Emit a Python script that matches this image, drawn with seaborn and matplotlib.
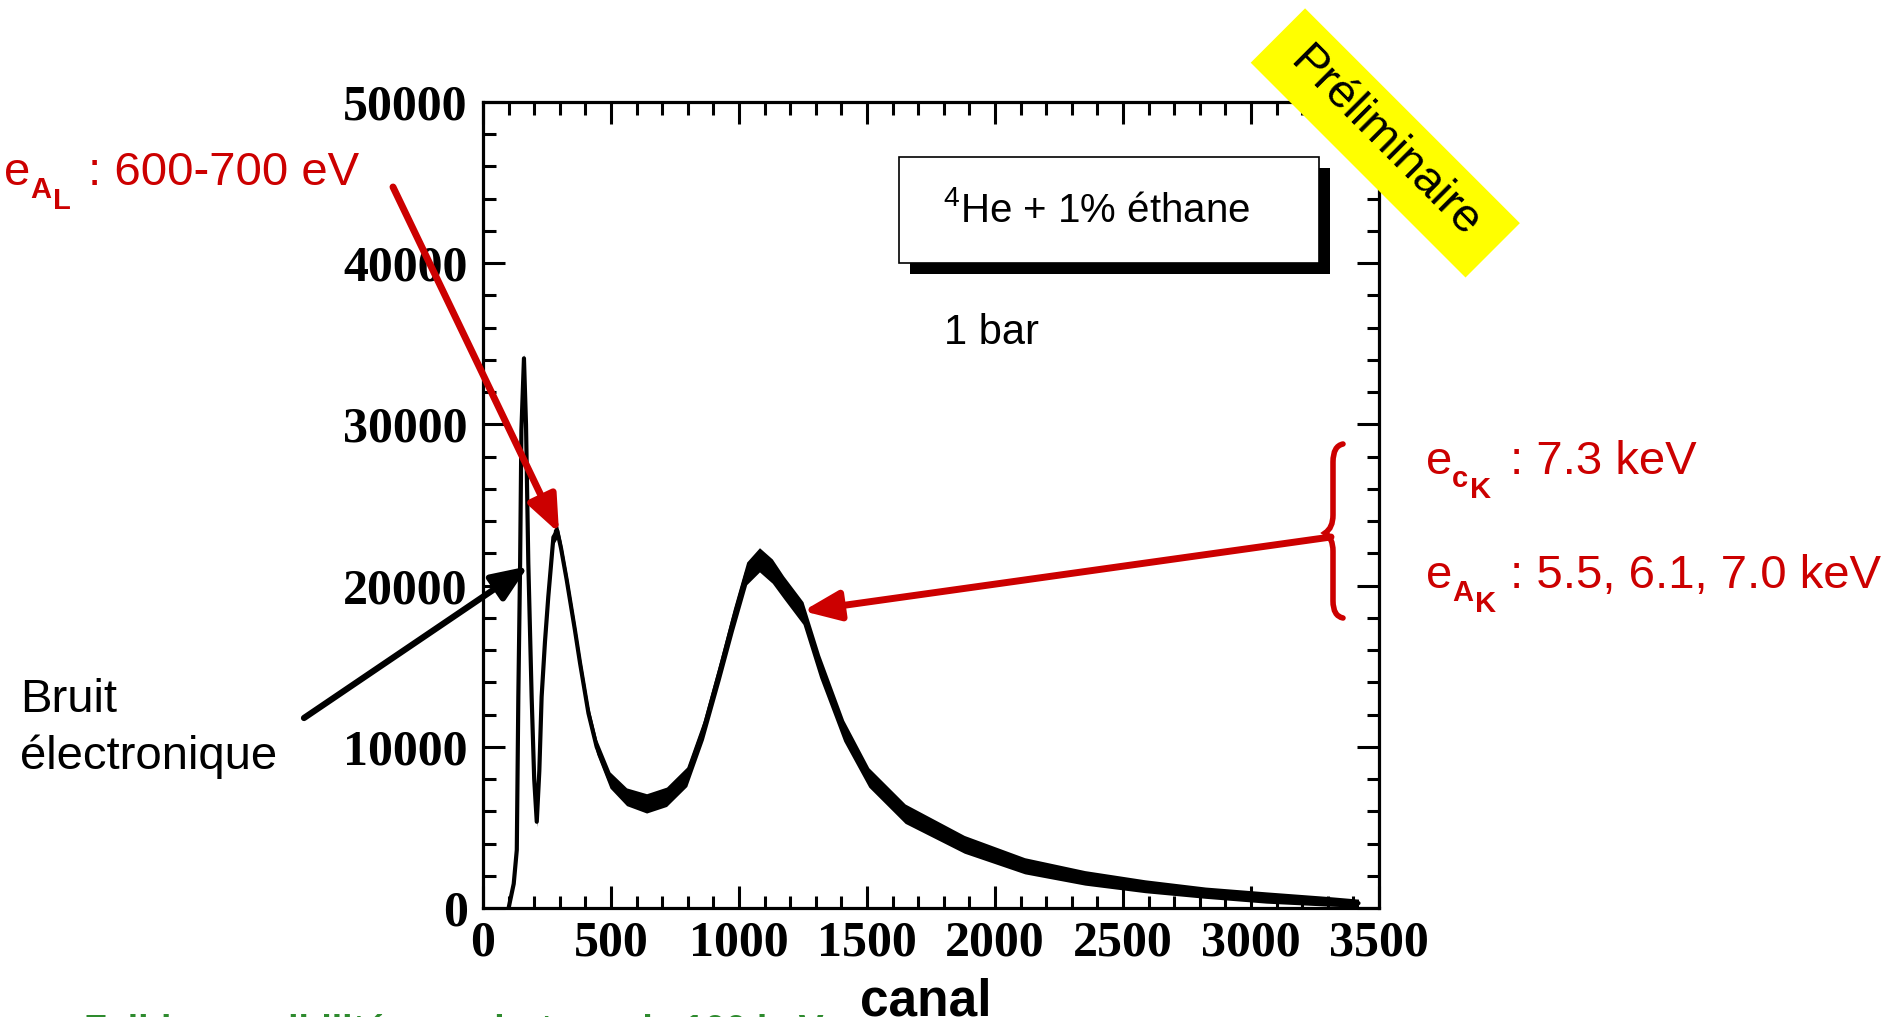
import numpy as np
import pandas as pd
import matplotlib
matplotlib.use("Agg")
import matplotlib.pyplot as plt
import seaborn as sns
from matplotlib.patches import Rectangle, PathPatch
from matplotlib.path import Path
from matplotlib.ticker import MultipleLocator

# ── data ──
canal = [100, 120, 132, 138, 145, 150, 160, 168, 177, 190, 200, 210, 220, 229,
         242, 255, 275, 290, 305, 327, 359, 379, 412, 444, 496, 561, 639, 717,
         796, 861, 926, 978, 1030, 1080, 1130, 1174, 1250, 1315, 1409, 1507,
         1649, 1880, 2116, 2351, 2586, 2822, 3060, 3296, 3420]
coups = [0, 1500, 3600, 13100, 21400, 29650, 34100, 30000, 21400, 13100, 8000,
         5350, 8500, 13100, 16500, 19300, 23000, 23400, 22300, 20350, 17250,
         15200, 12080, 10000, 7940, 6900, 6490, 6900, 8140, 11040, 14760, 17870,
         20760, 21600, 20900, 19900, 18300, 15000, 11000, 8100, 5850, 3950, 2620,
         1870, 1350, 950, 650, 420, 300]
# half width of the statistical noise band
bruit = [0, 100, 200, 250, 300, 300, 300, 300, 300, 300, 250, 300, 300, 350,
         350, 400, 450, 450, 450, 450, 450, 450, 450, 450, 500, 550, 600, 600,
         600, 600, 650, 700, 700, 750, 750, 700, 700, 700, 650, 600, 600, 550,
         500, 450, 400, 350, 350, 300, 250]

x_ticks = [0, 500, 1000, 1500, 2000, 2500, 3000, 3500]
y_ticks = [0, 10000, 20000, 30000, 40000, 50000]

RED = "#CC0000"
W, H = 1890, 1017

sns.set_style("ticks")
plt.rcParams["font.family"] = ["Liberation Sans", "DejaVu Sans"]
plt.rcParams["text.color"] = "black"
plt.rcParams["mathtext.fontset"] = "custom"
plt.rcParams["mathtext.rm"] = "Liberation Sans"
plt.rcParams["mathtext.it"] = "Liberation Sans:italic"
plt.rcParams["mathtext.bf"] = "Liberation Sans:bold"


def fx(x):
    return x / W


def fy(y):
    return 1 - y / H


def inch(x, y):
    return x / 100, (H - y) / 100


fig = plt.figure(figsize=(W / 100, H / 100), dpi=100)
ax = fig.add_axes([fx(483), fy(908), (1379 - 483) / W, (908 - 102) / H])

df = pd.DataFrame({"canal": canal, "coups": coups, "bruit": bruit})
ax.fill_between(df["canal"], df["coups"] - df["bruit"], df["coups"] + df["bruit"],
                color="black", lw=0)
sns.lineplot(data=df, x="canal", y="coups", color="black", lw=3, ax=ax)

ax.set_xlim(0, 3500)
ax.set_ylim(0, 50000)
ax.set_xticks(x_ticks)
ax.set_yticks(y_ticks)
ax.xaxis.set_minor_locator(MultipleLocator(100))
ax.yaxis.set_minor_locator(MultipleLocator(2000))
ax.tick_params(which="both", direction="in", top=True, right=True, width=2.2,
               color="black", labelcolor="black")
ax.tick_params(which="major", length=16)
ax.tick_params(which="minor", length=9)
ax.tick_params(axis="y", pad=11)
ax.tick_params(axis="x", pad=9)
for lab in ax.get_xticklabels() + ax.get_yticklabels():
    lab.set_fontfamily("Liberation Serif")
    lab.set_fontweight("bold")
    lab.set_fontsize(36)
ax.set_xlabel("")
ax.set_ylabel("")
for s in ax.spines.values():
    s.set_linewidth(2.3)
    s.set_color("black")

# x label, cut by the bottom edge as in the slide
fig.text(fx(926), fy(1015), "canal", ha="center", va="baseline", fontsize=37,
         fontweight="bold")

# ── legend box with shadow ──
fig.add_artist(Rectangle(inch(910, 274), 4.20, 1.06, transform=fig.dpi_scale_trans,
                         fc="black", ec="none", zorder=5))
fig.add_artist(Rectangle(inch(899, 263), 4.20, 1.06, transform=fig.dpi_scale_trans,
                         fc="white", ec="black", lw=1.2, zorder=6))
fig.text(fx(1097), fy(211), r"$^{4}$He + 1% éthane", ha="center", va="center",
         fontsize=29, zorder=7)
fig.text(fx(944), fy(333), "1 bar", ha="left", va="center", fontsize=30)

# ── "Préliminaire" banner ──
fig.add_artist(Rectangle(inch(1250.7, 62.7), 3.038, 0.769, angle=-45,
                         transform=fig.dpi_scale_trans, fc="#FFFF00", ec="none",
                         zorder=8))
fig.text(fx(1385), fy(143), "Préliminaire", rotation=-45, rotation_mode="anchor",
         ha="center", va="center", fontsize=34, zorder=9)


# ── red labels e with two-level subscripts ──
def etiquette(x, y, sub1, sub2, reste, dx2=49):
    fig.text(fx(x), fy(y), "e", color=RED, ha="left", va="baseline", fontsize=34)
    fig.text(fx(x + 26), fy(y + 13), sub1, color=RED, ha="left", va="baseline",
             fontsize=21, fontweight="bold")
    fig.text(fx(x + dx2), fy(y + 24), sub2, color=RED, ha="left", va="baseline",
             fontsize=21, fontweight="bold")
    fig.text(fx(x + 84), fy(y), reste, color=RED, ha="left", va="baseline",
             fontsize=34)


etiquette(4, 185, "A", "L", ": 600-700 eV")
etiquette(1426, 474, "c", "K", ": 7.3 keV", dx2=44)
etiquette(1426, 588, "A", "K", ": 5.5, 6.1, 7.0 keV")

fig.text(fx(20), fy(700), "Bruit", ha="left", va="center", fontsize=34)
fig.text(fx(20), fy(757), "électronique", ha="left", va="center", fontsize=34)

arrow_red = dict(arrowstyle="-|>,head_length=1.1,head_width=0.45", lw=5,
                 color=RED, shrinkA=0, shrinkB=0, mutation_scale=20)
arrow_black = dict(arrowstyle="-|>,head_length=1.1,head_width=0.45", lw=4.5,
                   color="black", shrinkA=0, shrinkB=0, mutation_scale=20)
ax.annotate("", xy=(297, 23260), xycoords="data",
            xytext=(393, H - 187), textcoords="figure pixels",
            arrowprops=arrow_red, annotation_clip=False, zorder=10)
ax.annotate("", xy=(176, 21200), xycoords="data",
            xytext=(304, H - 718), textcoords="figure pixels",
            arrowprops=arrow_black, annotation_clip=False, zorder=10)
ax.annotate("", xy=(1250, 18420), xycoords="data",
            xytext=(1331, H - 537), textcoords="figure pixels",
            arrowprops=arrow_red, annotation_clip=False, zorder=10)

# curly brace on the right
pts = [(1343, 444), (1333, 446), (1333, 462), (1333, 515), (1333, 528),
       (1325, 533), (1333, 538), (1333, 551), (1333, 601), (1333, 616),
       (1343, 618)]
codes = [Path.MOVETO, Path.CURVE3, Path.CURVE3, Path.LINETO, Path.CURVE3,
         Path.CURVE3, Path.CURVE3, Path.CURVE3, Path.LINETO, Path.CURVE3,
         Path.CURVE3]
brace = Path([inch(x, y) for x, y in pts], codes)
fig.add_artist(PathPatch(brace, transform=fig.dpi_scale_trans, fc="none",
                         ec=RED, lw=4, capstyle="round"))

# green caption, cut by the bottom edge of the slide
fig.text(fx(84), fy(1042), "Faible sensibilité aux photons de 100 keV",
         color="#2E8B2E", ha="left", va="baseline", fontsize=27, fontweight="bold")

fig.savefig("out.png", dpi=100)
